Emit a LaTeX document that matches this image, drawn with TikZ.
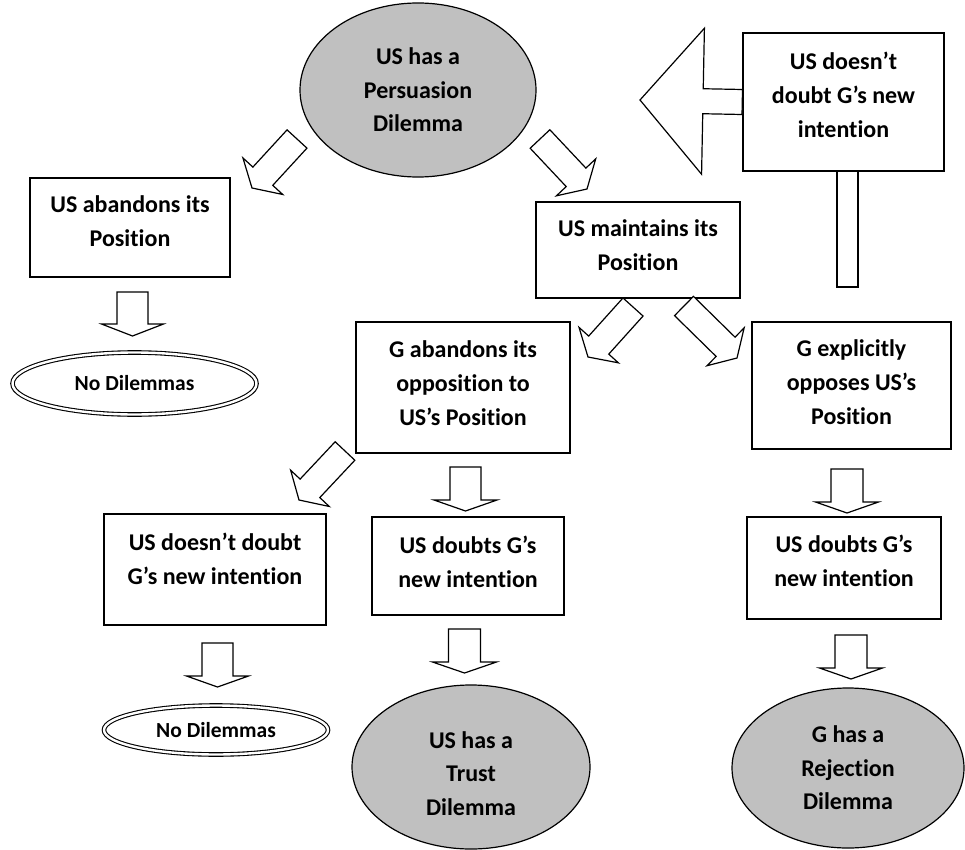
\documentclass[tikz,border=0pt]{standalone}
\usepackage{fontspec}
\setmainfont{Carlito}[Ligatures=NoCommon]
\usetikzlibrary{calc,shapes.geometric}
\definecolor{ellgray}{RGB}{192,192,192}
\newcommand{\up}[1]{\rule[-#1]{0pt}{#1}}
\newcommand{\blk}[5]{%
  \path ($(#2)!#5!(#1)$) coordinate (#1b);
  \draw[barrow] ($(#1)!#3!90:(#2)$) -- ($(#1b)!#3!90:(#2)$) -- ($(#1b)!#4!90:(#2)$)
    -- (#2) -- ($(#1b)!#4!-90:(#2)$) -- ($(#1b)!#3!-90:(#2)$) -- ($(#1)!#3!-90:(#2)$) -- cycle;
}
\tikzset{
  box/.style={draw, line width=1.5pt, align=center, inner sep=0pt,
    font=\bfseries\fontsize{24}{34}\selectfont},
  dil/.style={ellipse, draw, line width=1.2pt, fill=ellgray, align=center, inner sep=0pt,
    font=\bfseries\fontsize{24}{33.5}\selectfont},
  nodil/.style={ellipse, draw, double, double distance=2.4pt, line width=1.1pt, inner sep=0pt,
    font=\bfseries\fontsize{21.5}{24}\selectfont},
  barrow/.style={draw, line width=1.2pt, fill=white, line join=miter},
}
\begin{document}
\begin{tikzpicture}[x=1pt, y=-1pt]
\useasboundingbox (0,0) rectangle (965,850);

% nodes
\node[dil, minimum width=236, minimum height=174] (pers) at (418,90) {US has a\\Persuasion\\Dilemma};
\node[box, minimum width=201, minimum height=138] (tr) at (843.5,102) {US doesn’t\\doubt G’s new\\intention\up{14pt}};
\node[draw, line width=1.5pt, minimum width=21, minimum height=116, inner sep=0pt] (bar) at (847.5,229) {};
\node[box, minimum width=200, minimum height=99] (usab) at (130,227.5) {US abandons its\\Position\up{12pt}};
\node[box, minimum width=204, minimum height=96] (usmt) at (638,250) {US maintains its\\Position\up{10pt}};
\node[nodil, minimum width=244, minimum height=62] (nd1) at (134.5,383.5) {No Dilemmas};
\node[box, minimum width=214, minimum height=131] (gab) at (463,387.5) {G abandons its\\opposition to\\US’s Position\up{8pt}};
\node[box, minimum width=199, minimum height=127] (gex) at (851.5,385.5) {G explicitly\\opposes US’s\\Position\up{6pt}};
\node[box, minimum width=222, minimum height=111] (usnd) at (215,569.5) {US doesn’t doubt\\G’s new intention\up{22pt}};
\node[box, minimum width=192, minimum height=98] (usdm) at (468,566) {US doubts G’s\\new intention\up{8pt}};
\node[box, minimum width=194, minimum height=102] (usdr) at (844,568) {US doubts G’s\\new intention\up{14pt}};
\node[nodil, minimum width=224, minimum height=49] (nd2) at (216,730) {No Dilemmas};
\node[dil, minimum width=238, minimum height=164] (trust) at (471,767) {\rule{0pt}{30pt}US has a\\Trust\\Dilemma};
\node[dil, minimum width=232, minimum height=160] (rej) at (848,768) {G has a\\Rejection\\Dilemma};

% arrow end points
\coordinate (a1t) at (297,139);  \coordinate (a1h) at (252,188);
\coordinate (a2t) at (540,139);  \coordinate (a2h) at (587,189);
\coordinate (a3t) at (132.5,292); \coordinate (a3h) at (132.5,336);
\coordinate (a4t) at (633,307);  \coordinate (a4h) at (588,357);
\coordinate (a5t) at (684,306);  \coordinate (a5h) at (737,358);
\coordinate (a6t) at (345,451);  \coordinate (a6h) at (299,500);
\coordinate (a7t) at (465.5,467); \coordinate (a7h) at (465.5,511);
\coordinate (a8t) at (847,469);  \coordinate (a8h) at (847,513);
\coordinate (a9t) at (217.5,643); \coordinate (a9h) at (217.5,687);
\coordinate (a10t) at (464.5,629); \coordinate (a10h) at (464.5,673);
\coordinate (a11t) at (851,635); \coordinate (a11h) at (851,679);
\coordinate (a12t) at (tr.west); \coordinate (a12h) at (640,100);

\blk{a1t}{a1h}{13.5pt}{27pt}{16pt}
\blk{a2t}{a2h}{13.5pt}{27pt}{16pt}
\blk{a3t}{a3h}{15.5pt}{31pt}{12pt}
\blk{a4t}{a4h}{13.5pt}{26.5pt}{16pt}
\blk{a5t}{a5h}{13.5pt}{26.5pt}{16pt}
\blk{a6t}{a6h}{13.5pt}{26.5pt}{16pt}
\blk{a7t}{a7h}{15.5pt}{31.5pt}{11pt}
\blk{a8t}{a8h}{16pt}{31.5pt}{11pt}
\blk{a9t}{a9h}{15.5pt}{31pt}{11pt}
\blk{a10t}{a10h}{16pt}{32pt}{11pt}
\blk{a11t}{a11h}{16pt}{31.5pt}{11pt}
\blk{a12t}{a12h}{12.5pt}{73pt}{63pt}
\end{tikzpicture}
\end{document}
